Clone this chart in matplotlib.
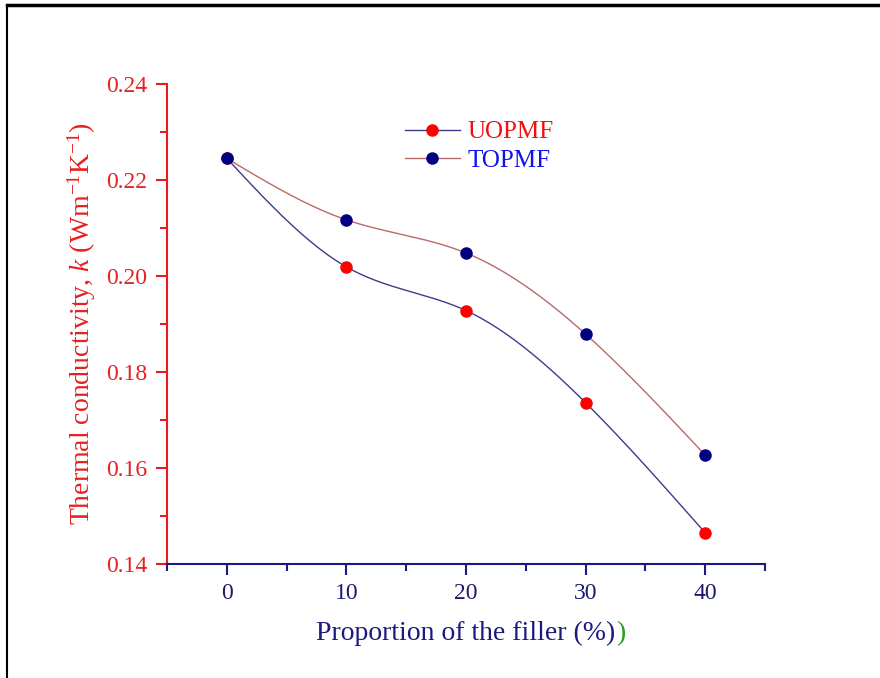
import numpy as np
import matplotlib.pyplot as plt
from matplotlib.lines import Line2D
from matplotlib.ticker import MultipleLocator

plt.rcParams['font.family'] = ['Liberation Serif', 'DejaVu Serif']
plt.rcParams['mathtext.fontset'] = 'custom'
plt.rcParams['mathtext.rm'] = 'Liberation Serif'
plt.rcParams['mathtext.it'] = 'Liberation Serif:italic'

filler = [0, 10, 20, 30, 40]
uopmf = [0.2245, 0.2019, 0.1928, 0.1736, 0.1465]
topmf = [0.2245, 0.2117, 0.2048, 0.1879, 0.1627]

RED = '#ff0000'
NAVY = '#000080'


def natural_spline(x, y, n=200):
    x = np.asarray(x, float)
    y = np.asarray(y, float)
    k = len(x)
    h = np.diff(x)
    A = np.zeros((k, k))
    b = np.zeros(k)
    A[0, 0] = A[-1, -1] = 1
    for i in range(1, k - 1):
        A[i, i - 1] = h[i - 1]
        A[i, i] = 2 * (h[i - 1] + h[i])
        A[i, i + 1] = h[i]
        b[i] = 6 * ((y[i + 1] - y[i]) / h[i] - (y[i] - y[i - 1]) / h[i - 1])
    m = np.linalg.solve(A, b)
    xs = np.linspace(x[0], x[-1], n)
    idx = np.clip(np.searchsorted(x, xs) - 1, 0, k - 2)
    x0, x1 = x[idx], x[idx + 1]
    hh = x1 - x0
    t0, t1 = x1 - xs, xs - x0
    ys = (m[idx] * t0 ** 3 + m[idx + 1] * t1 ** 3) / (6 * hh) \
        + (y[idx] / hh - m[idx] * hh / 6) * t0 \
        + (y[idx + 1] / hh - m[idx + 1] * hh / 6) * t1
    return xs, ys


fig = plt.figure(figsize=(8.8, 6.78), dpi=100)
ax = fig.add_axes([0.1898, 0.1681, 0.6795, 0.708])

xs, ys = natural_spline(filler, uopmf)
ax.plot(xs, ys, color='#3c3c8c', lw=1.0)
xs, ys = natural_spline(filler, topmf)
ax.plot(xs, ys, color='#b86a6a', lw=1.0)
ax.plot(filler, uopmf, 'o', color=RED, ms=8, zorder=3)
ax.plot(filler, topmf, 'o', color=NAVY, ms=8, zorder=3)

ax.set_xlim(-5, 45)
ax.set_ylim(0.14, 0.24)
ax.xaxis.set_major_locator(MultipleLocator(10))
ax.xaxis.set_minor_locator(MultipleLocator(5))
ax.yaxis.set_major_locator(MultipleLocator(0.02))
ax.yaxis.set_minor_locator(MultipleLocator(0.01))
ax.yaxis.set_major_formatter(plt.FuncFormatter(lambda v, p: f'{v:.2f}'))

ax.spines['top'].set_visible(False)
ax.spines['right'].set_visible(False)
ax.spines['left'].set_color('#e81c1c')
ax.spines['bottom'].set_color('#1a1a80')
ax.spines['left'].set_linewidth(1.5)
ax.spines['bottom'].set_linewidth(1.5)
ax.tick_params(axis='y', which='both', colors='#e81c1c', labelcolor='#e82020',
               labelsize=17, width=1.5, direction='out')
ax.tick_params(axis='x', which='both', colors='#1a1a80', labelcolor='#1a1a70',
               labelsize=17, width=1.5, direction='out')
ax.tick_params(which='major', length=8, pad=6)
ax.tick_params(which='minor', length=5)

ax.set_ylabel(r'Thermal conductivity, $\mathit{k}$ (Wm$^{-1}$K$^{-1}$)',
              color='#e82020', fontsize=20, labelpad=6)
xl = ax.set_xlabel('Proportion of the filler (%)', color='#1a1a80', fontsize=20, labelpad=12)
ax.annotate(')', xy=(1, 0), xycoords=xl, va='bottom', ha='left',
            color='#22a022', fontsize=20)

handles = [
    Line2D([], [], color='#3c3c8c', lw=1.0, marker='o', mfc=RED, mec=RED, ms=8),
    Line2D([], [], color='#b86a6a', lw=1.0, marker='o', mfc=NAVY, mec=NAVY, ms=8),
]
leg = ax.legend(handles, ['UOPMF', 'TOPMF'], loc='upper left',
                bbox_to_anchor=(0.36, 0.97), frameon=False, fontsize=18,
                handlelength=2.2, handletextpad=0.3, labelspacing=0.25)
leg.get_texts()[0].set_color('#ee1111')
leg.get_texts()[1].set_color('#1111ee')

# page frame
fig.add_artist(Line2D([0.008, 1.0], [0.9926, 0.9926], color='black', lw=2.5,
                      transform=fig.transFigure))
fig.add_artist(Line2D([0.008, 0.008], [0.0, 0.9926], color='black', lw=1.5,
                      transform=fig.transFigure))

fig.savefig('out.png', dpi=100)
